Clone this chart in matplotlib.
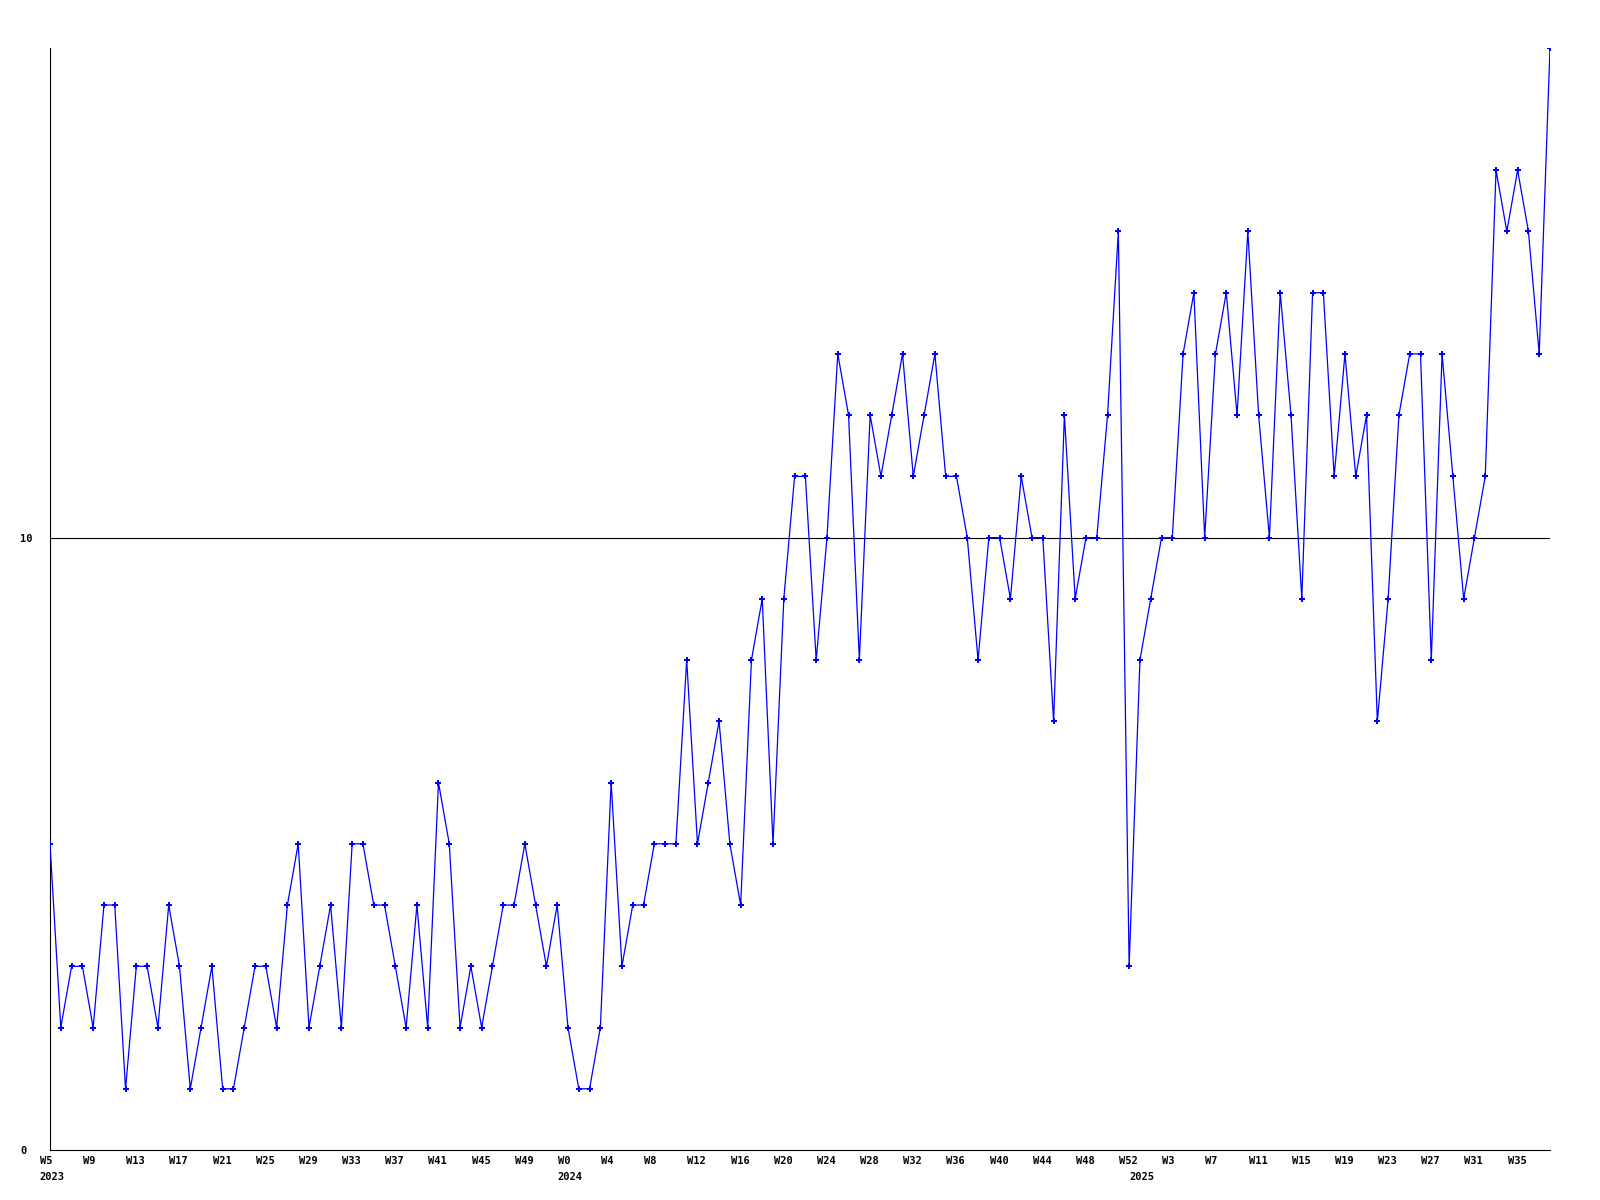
import matplotlib

matplotlib.use("Agg")
import matplotlib.pyplot as plt
import matplotlib.transforms as mtransforms

# weekly counts, 2023 W5 .. 2025 W38
weeks_2023 = list(range(5, 53))
weeks_2024 = list(range(0, 53))
weeks_2025 = list(range(0, 39))

values = [
    5, 2, 3, 3, 2, 4, 4, 1, 3, 3,
    2, 4, 3, 1, 2, 3, 1, 1, 2, 3,
    3, 2, 4, 5, 2, 3, 4, 2, 5, 5,
    4, 4, 3, 2, 4, 2, 6, 5, 2, 3,
    2, 3, 4, 4, 5, 4, 3, 4, 2, 1,
    1, 2, 6, 3, 4, 4, 5, 5, 5, 8,
    5, 6, 7, 5, 4, 8, 9, 5, 9, 11,
    11, 8, 10, 13, 12, 8, 12, 11, 12, 13,
    11, 12, 13, 11, 11, 10, 8, 10, 10, 9,
    11, 10, 10, 7, 12, 9, 10, 10, 12, 15,
    3, 8, 9, 10, 10, 13, 14, 10, 13, 14,
    12, 15, 12, 10, 14, 12, 9, 14, 14, 11,
    13, 11, 12, 7, 9, 12, 13, 13, 8, 13,
    11, 9, 10, 11, 16, 15, 16, 15, 13, 18,
]

y_ticks = [0, 10]
y_max = 18

weeks = weeks_2023 + weeks_2024 + weeks_2025
year_names = ["2023", "2024", "2025"]
year_starts = [0, len(weeks_2023), len(weeks_2023) + len(weeks_2024)]
x = list(range(len(values)))

W, H, DPI = 1600, 1200, 100
fig = plt.figure(figsize=(W / DPI, H / DPI), dpi=DPI)
left, right, top, bottom = 50, 1550, 47.7, 1150
ax = fig.add_axes([left / W, (H - bottom) / H, (right - left) / W, (bottom - top) / H])

font = dict(family="DejaVu Sans Mono", weight="bold", size=7.5)

ax.axhline(10, color="black", lw=0.8, zorder=1)
ax.plot(x, values, color="#0000ff", lw=0.9, marker="P", markersize=4.2,
        markeredgewidth=0, zorder=3)

ax.set_xlim(0, len(values) - 1)
ax.set_ylim(0, y_max)

for side in ["top", "right"]:
    ax.spines[side].set_visible(False)
for side in ["left", "bottom"]:
    ax.spines[side].set_linewidth(0.8)
    ax.spines[side].set_color("black")

# week ticks every 4 points, labels left aligned a bit before the point
tick_idx = x[::4]
ax.set_xticks(tick_idx, [f"W{weeks[i]}" for i in tick_idx])
ax.tick_params(axis="x", length=0, pad=4)
shift = mtransforms.ScaledTranslation(-10 / DPI, 0, fig.dpi_scale_trans)
for lbl in ax.get_xticklabels():
    lbl.set_horizontalalignment("left")
    lbl.set_transform(lbl.get_transform() + shift)
    lbl.set_fontproperties(matplotlib.font_manager.FontProperties(**font))

# year labels under the first week of each year
year_tr = mtransforms.offset_copy(ax.get_xaxis_transform(), fig=fig, x=-11, y=-27, units="dots")
for name, i in zip(year_names, year_starts):
    ax.text(i, 0, name, transform=year_tr, ha="left", va="center", **font)

ax.set_yticks(y_ticks, [str(v) for v in y_ticks])
ax.tick_params(axis="y", length=0, pad=21.6)
for lbl in ax.get_yticklabels():
    lbl.set_horizontalalignment("left")
    lbl.set_fontproperties(matplotlib.font_manager.FontProperties(**font))

fig.savefig("out.png", dpi=DPI, facecolor="white")
